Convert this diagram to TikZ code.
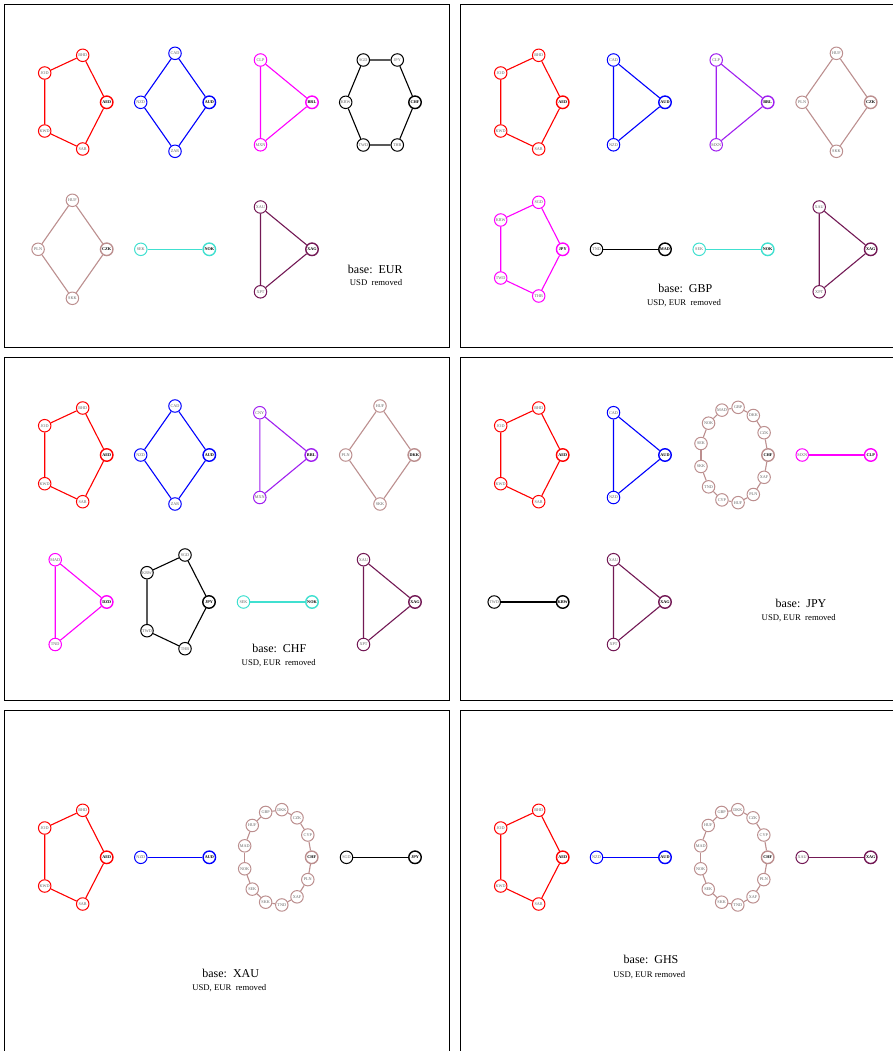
\documentclass[tikz,border=0pt]{standalone}
\usepackage{fontspec}
\setmainfont{Liberation Serif}
\definecolor{magen}{RGB}{255,0,255}
\definecolor{purp}{RGB}{160,32,240}
\definecolor{rosy}{RGB}{188,143,143}
\definecolor{turq}{RGB}{64,224,208}
\definecolor{metal}{RGB}{115,25,85}

% #1 panel, #2 colour, #3 place of hub, #4 hub, then the others
\newcommand{\pairline}[5]{%
  \begin{scope}[shift={#3}]
    \node[hubcur, draw=#2] (#1#4) at (0,0) {#4};
    \node[cur, draw=#2] (#1#5) at (-68.5,0) {#5};
    \draw[link, draw=#2] (#1#4) -- (#1#5);
  \end{scope}}
\newcommand{\triring}[6]{%
  \begin{scope}[shift={#3}]
    \node[hubcur, draw=#2] (#1#4) at (0,0) {#4};
    \node[cur, draw=#2] (#1#5) at (-51.5,-42.3) {#5};
    \node[cur, draw=#2] (#1#6) at (-51.5,42.5) {#6};
    \draw[link, draw=#2] (#1#4) -- (#1#5) -- (#1#6) -- (#1#4);
  \end{scope}}
\newcommand{\diamring}[7]{%
  \begin{scope}[shift={#3}]
    \node[hubcur, draw=#2] (#1#4) at (0,0) {#4};
    \node[cur, draw=#2] (#1#5) at (-34.3,-49) {#5};
    \node[cur, draw=#2] (#1#6) at (-68.6,0) {#6};
    \node[cur, draw=#2] (#1#7) at (-34.3,49) {#7};
    \draw[link, draw=#2] (#1#4) -- (#1#5) -- (#1#6) -- (#1#7) -- (#1#4);
  \end{scope}}
\newcommand{\pentring}[8]{%
  \begin{scope}[shift={#3}]
    \node[hubcur, draw=#2] (#1#4) at (0,0) {#4};
    \node[cur, draw=#2] (#1#5) at (-24,-47) {#5};
    \node[cur, draw=#2] (#1#6) at (-62,-29.3) {#6};
    \node[cur, draw=#2] (#1#7) at (-62,28.7) {#7};
    \node[cur, draw=#2] (#1#8) at (-24,46.7) {#8};
    \draw[link, draw=#2] (#1#4) -- (#1#5) -- (#1#6) -- (#1#7) -- (#1#8) -- (#1#4);
  \end{scope}}
\newcommand{\hexring}[9]{%
  \begin{scope}[shift={#3}]
    \node[hubcur, draw=#2] (#1#4) at (0,0) {#4};
    \node[cur, draw=#2] (#1#5) at (-17.7,-42.3) {#5};
    \node[cur, draw=#2] (#1#6) at (-51.7,-42.3) {#6};
    \node[cur, draw=#2] (#1#7) at (-69.3,0) {#7};
    \node[cur, draw=#2] (#1#8) at (-51.7,42.7) {#8};
    \node[cur, draw=#2] (#1#9) at (-17.7,42.7) {#9};
    \draw[link, draw=#2] (#1#4) -- (#1#5) -- (#1#6) -- (#1#7) -- (#1#8) -- (#1#9) -- (#1#4);
  \end{scope}}
% 13 currencies on an oval, hub on the right, the rest counter-clockwise
\newcommand{\ellring}[5]{%
  \begin{scope}[shift={#3}]
    \node[hubcur, draw=#2, alias=#1r0] (#1#4) at (0,0) {#4};
    \foreach \cc [count=\k] in {#5}
      \node[cur, draw=#2, alias=#1r\k] (#1\cc) at ({34*cos(\k*360/13)-34},{-48*sin(\k*360/13)}) {\cc};
    \foreach \k in {0,...,12}{
      \pgfmathtruncatemacro\nxt{mod(\k+1,13)}
      \draw[link, draw=#2] (#1r\k) -- (#1r\nxt);}
  \end{scope}}

\begin{document}
\begin{tikzpicture}[x=1pt, y=-1pt,
  cur/.style={circle, line width=1pt, minimum size=12.5pt, inner sep=0pt,
    font=\fontsize{4.2}{4.5}\selectfont, text=black!60},
  hubcur/.style={cur, line width=1.4pt, font=\fontsize{4.2}{4.5}\selectfont\bfseries, text=black},
  link/.style={line width=1.1pt},
  frame/.style={draw=black, line width=0.9pt},
  title/.style={inner sep=0pt, font=\fontsize{12}{14}\selectfont},
  note/.style={inner sep=0pt, font=\fontsize{8.7}{10}\selectfont}]
\clip (0,0) rectangle (893,1051);
\fill[white] (0,0) rectangle (893,1051);

% panels
\draw[frame] (4,4) rectangle (449,347);
\draw[frame] (460,4) rectangle (905,347);
\draw[frame] (4,357) rectangle (449,700);
\draw[frame] (460,357) rectangle (905,700);
\draw[frame] (4,710) rectangle (449,1060);
\draw[frame] (460,710) rectangle (905,1060);

% base EUR
\pentring{e}{red}{(106.7,102.3)}{AED}{BHD}{JOD}{KWD}{SAR}
\diamring{e}{blue}{(209.3,102.3)}{AUD}{CAD}{NZD}{ZAR}
\triring{e}{magen}{(312,102.3)}{BRL}{CLP}{MXN}
\hexring{e}{black}{(415,102.3)}{CHF}{JPY}{SGD}{KRW}{TWD}{THB}
\diamring{e}{rosy}{(106.7,249.3)}{CZK}{HUF}{PLN}{SKK}
\pairline{e}{turq}{(209.3,249.3)}{NOK}{SEK}
\triring{e}{metal}{(312,249.3)}{XAG}{XAU}{XPT}
\node[title] (eTitle) at (375.3,269) {base:\ \ EUR};
\node[note] (eNote) at (376,282.5) {USD\ \ removed};

% base GBP
\pentring{g}{red}{(562.7,102.3)}{AED}{BHD}{JOD}{KWD}{SAR}
\triring{g}{blue}{(665,102.3)}{AUD}{CAD}{NZD}
\triring{g}{purp}{(767.7,102.3)}{BRL}{CLP}{MXN}
\diamring{g}{rosy}{(870.7,102.3)}{CZK}{HUF}{PLN}{SKK}
\pentring{g}{magen}{(562.7,249.3)}{JPY}{SGD}{KRW}{TWD}{THB}
\pairline{g}{black}{(665,249.3)}{MAD}{TND}
\pairline{g}{turq}{(767.7,249.3)}{NOK}{SEK}
\triring{g}{metal}{(870.7,249.3)}{XAG}{XAU}{XPT}
\node[title] (gTitle) at (685.3,288) {base:\ \ GBP};
\node[note] (gNote) at (684,303) {USD, EUR\ \ removed};

% base CHF
\pentring{c}{red}{(106.7,455)}{AED}{BHD}{JOD}{KWD}{SAR}
\diamring{c}{blue}{(209.3,455)}{AUD}{CAD}{NZD}{ZAR}
\triring{c}{purp}{(311.3,455)}{BRL}{CNY}{MXN}
\diamring{c}{rosy}{(414.3,455)}{DKK}{HUF}{PLN}{SKK}
\triring{c}{magen}{(106.7,602)}{DZD}{MAD}{TND}
\pentring{c}{black}{(209,602)}{JPY}{SGD}{KRW}{TWD}{THB}
\pairline{c}{turq}{(312,602)}{NOK}{SEK}
\triring{c}{metal}{(415,602)}{XAG}{XAU}{XPT}
\node[title] (cTitle) at (279.3,648.3) {base:\ \ CHF};
\node[note] (cNote) at (278.7,662.7) {USD, EUR\ \ removed};

% base JPY
\pentring{j}{red}{(562.7,455)}{AED}{BHD}{JOD}{KWD}{SAR}
\triring{j}{blue}{(665,455)}{AUD}{CAD}{NZD}
\ellring{j}{rosy}{(768,455)}{CHF}{CZK,DKK,GBP,MAD,NOK,SEK,SKK,TND,CYP,HUF,PLN,XAF}
\pairline{j}{magen}{(870.7,455)}{CLP}{MXN}
\pairline{j}{black}{(562.7,602)}{KRW}{TWD}
\triring{j}{metal}{(665,602)}{XAG}{XAU}{XPT}
\node[title] (jTitle) at (801,603.3) {base:\ \ JPY};
\node[note] (jNote) at (798.7,618.3) {USD, EUR\ \ removed};

% base XAU
\pentring{x}{red}{(106.7,857.3)}{AED}{BHD}{JOD}{KWD}{SAR}
\pairline{x}{blue}{(209.3,857.3)}{AUD}{NZD}
\ellring{x}{rosy}{(311.7,857.3)}{CHF}{CYP,CZK,DKK,GBP,HUF,MAD,NOK,SEK,SKK,TND,XAF,PLN}
\pairline{x}{black}{(415,857.3)}{JPY}{SGD}
\node[title] (xTitle) at (230.7,973.3) {base:\ \ XAU};
\node[note] (xNote) at (229.3,988) {USD, EUR\ \ removed};

% base GHS
\pentring{h}{red}{(562.7,857.3)}{AED}{BHD}{JOD}{KWD}{SAR}
\pairline{h}{blue}{(665,857.3)}{AUD}{NZD}
\ellring{h}{rosy}{(767.7,857.3)}{CHF}{CYP,CZK,DKK,GBP,HUF,MAD,NOK,SEK,SKK,TND,XAF,PLN}
\pairline{h}{metal}{(870.7,857.3)}{XAG}{XAU}
\node[title] (hTitle) at (651,959) {base:\ \ GHS};
\node[note] (hNote) at (649.3,975) {USD, EUR removed};
\end{tikzpicture}
\end{document}
